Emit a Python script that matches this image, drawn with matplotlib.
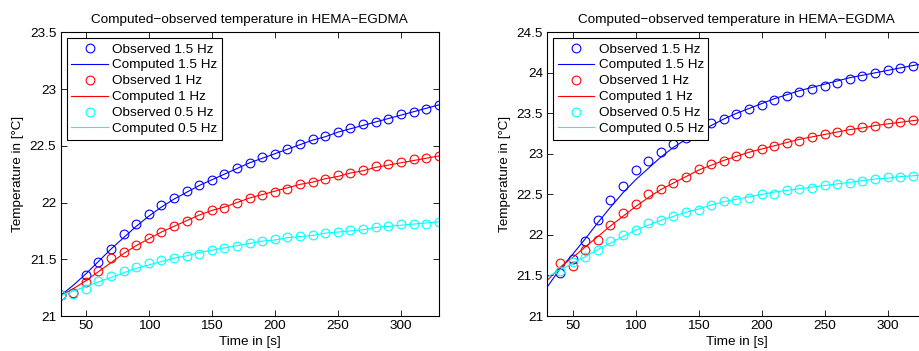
import numpy as np
import matplotlib
matplotlib.use('Agg')
import matplotlib.pyplot as plt

plt.rcParams['font.family'] = ['Liberation Sans', 'DejaVu Sans']

t = np.arange(30, 331, 10)  # time grid, s

# left panel -- observed
obs15_a = [21.185, 21.20, 21.36, 21.48, 21.59, 21.72, 21.81, 21.90, 21.975, 22.04, 22.10,
           22.15, 22.20, 22.25, 22.30, 22.345, 22.40, 22.43, 22.475, 22.52, 22.56,
           22.59, 22.62, 22.66, 22.695, 22.71, 22.74, 22.78, 22.80, 22.82, 22.86]
obs10_a = [21.185, 21.20, 21.30, 21.40, 21.51, 21.56, 21.625, 21.69, 21.74, 21.79, 21.84,
           21.89, 21.93, 21.95, 22.00, 22.04, 22.065, 22.09, 22.12, 22.16, 22.18,
           22.21, 22.24, 22.26, 22.29, 22.32, 22.34, 22.36, 22.38, 22.39, 22.41]
obs05_a = [21.185, 21.19, 21.24, 21.31, 21.35, 21.40, 21.43, 21.465, 21.49, 21.51, 21.53,
           21.55, 21.58, 21.60, 21.62, 21.64, 21.66, 21.68, 21.70, 21.705, 21.71,
           21.73, 21.74, 21.76, 21.77, 21.785, 21.795, 21.81, 21.81, 21.815, 21.83]
# left panel -- computed
cmp15_a = [21.18, 21.27, 21.37, 21.48, 21.59, 21.69, 21.79, 21.88, 21.96, 22.03, 22.09,
           22.15, 22.20, 22.25, 22.30, 22.35, 22.39, 22.43, 22.47, 22.51, 22.55,
           22.58, 22.62, 22.65, 22.68, 22.71, 22.74, 22.77, 22.80, 22.83, 22.86]
cmp10_a = [21.18, 21.24, 21.31, 21.39, 21.47, 21.55, 21.62, 21.68, 21.74, 21.79, 21.84,
           21.89, 21.93, 21.96, 22.00, 22.04, 22.07, 22.10, 22.13, 22.16, 22.18,
           22.21, 22.23, 22.26, 22.28, 22.31, 22.33, 22.35, 22.37, 22.39, 22.41]
cmp05_a = [21.18, 21.22, 21.26, 21.30, 21.34, 21.38, 21.42, 21.45, 21.48, 21.51, 21.53,
           21.56, 21.58, 21.60, 21.62, 21.64, 21.66, 21.67, 21.69, 21.70, 21.71,
           21.73, 21.74, 21.75, 21.76, 21.78, 21.79, 21.80, 21.81, 21.82, 21.83]

# right panel -- observed (starts at 40 s)
t_b = np.arange(40, 321, 10)
obs15_b = [21.53, 21.70, 21.92, 22.18, 22.43, 22.60, 22.80, 22.91, 23.02, 23.12, 23.19,
           23.30, 23.38, 23.43, 23.49, 23.55, 23.60, 23.66, 23.71, 23.76, 23.80,
           23.84, 23.88, 23.92, 23.96, 24.00, 24.03, 24.06, 24.085]
obs10_b = [21.66, 21.62, 21.81, 21.94, 22.12, 22.275, 22.38, 22.505, 22.57, 22.64, 22.715,
           22.81, 22.875, 22.91, 22.97, 23.01, 23.06, 23.10, 23.13, 23.16, 23.21,
           23.24, 23.27, 23.30, 23.33, 23.345, 23.38, 23.39, 23.415]
obs05_b = [21.55, 21.67, 21.73, 21.81, 21.92, 22.00, 22.065, 22.15, 22.18, 22.23, 22.28,
           22.31, 22.37, 22.42, 22.43, 22.46, 22.50, 22.51, 22.555, 22.57, 22.58,
           22.61, 22.63, 22.64, 22.67, 22.69, 22.71, 22.72, 22.73]
# right panel -- computed
cmp15_b = [21.36, 21.58, 21.76, 21.95, 22.15, 22.34, 22.52, 22.68, 22.82, 22.96, 23.08,
           23.18, 23.27, 23.35, 23.43, 23.50, 23.56, 23.62, 23.68, 23.73, 23.78,
           23.82, 23.86, 23.90, 23.94, 23.97, 24.00, 24.03, 24.06, 24.09, 24.12]
cmp10_b = [21.44, 21.60, 21.72, 21.85, 21.98, 22.11, 22.23, 22.35, 22.46, 22.56, 22.64,
           22.72, 22.80, 22.86, 22.92, 22.97, 23.02, 23.06, 23.10, 23.14, 23.18,
           23.21, 23.24, 23.27, 23.30, 23.32, 23.35, 23.37, 23.39, 23.41, 23.43]
cmp05_b = [21.48, 21.57, 21.65, 21.73, 21.82, 21.90, 21.98, 22.06, 22.12, 22.18, 22.23,
           22.28, 22.32, 22.37, 22.41, 22.44, 22.47, 22.50, 22.53, 22.55, 22.57,
           22.59, 22.61, 22.63, 22.65, 22.67, 22.69, 22.70, 22.72, 22.73, 22.74]

labels = ['Observed 1.5 Hz', 'Computed 1.5 Hz', 'Observed 1 Hz',
          'Computed 1 Hz', 'Observed 0.5 Hz', 'Computed 0.5 Hz']
colors = ['#0000ff', '#ff0000', '#00ffff']
title = 'Computed\u2212observed temperature in HEMA\u2212EGDMA'
fs = 9.7


def panel(ax, t_obs, obs, cmp, ylim):
    for o, c, col, i in zip(obs, cmp, colors, range(3)):
        ax.plot(t_obs, o, 'o', mfc='none', mec=col, ms=6.3, mew=0.8,
                label=labels[2 * i])
        ax.plot(t, c, '-', color=col, lw=0.8, label=labels[2 * i + 1])
    ax.set_xlim(30, 330)
    ax.set_ylim(*ylim)
    ax.set_xticks([50, 100, 150, 200, 250, 300])
    ax.set_yticks(np.arange(ylim[0], ylim[1] + 0.01, 0.5))
    ax.yaxis.set_major_formatter(matplotlib.ticker.FormatStrFormatter('%g'))
    ax.tick_params(direction='in', top=True, right=True, labelsize=fs, length=4,
                   width=0.6, pad=3)
    for s in ax.spines.values():
        s.set_linewidth(0.8)
    ax.set_title(title, fontsize=fs, pad=7)
    ax.set_xlabel('Time in [s]', fontsize=fs, labelpad=2.5)
    ax.set_ylabel('Temperature in [\u00b0C]', fontsize=fs, labelpad=4)
    leg = ax.legend(loc='upper left', fontsize=fs, handlelength=2.7,
                    handletextpad=0.3, labelspacing=0.26, borderpad=0.35,
                    borderaxespad=0.45, fancybox=False, framealpha=1,
                    edgecolor='black')
    leg.get_frame().set_linewidth(0.8)


fig = plt.figure(figsize=(9.2, 3.51), dpi=100)
ax1 = fig.add_axes([0.0658, 0.0997, 0.4111, 0.8083])
ax2 = fig.add_axes([0.5949, 0.0997, 0.4111, 0.8083])

panel(ax1, t, [obs15_a, obs10_a, obs05_a], [cmp15_a, cmp10_a, cmp05_a], (21, 23.5))
panel(ax2, t_b, [obs15_b, obs10_b, obs05_b], [cmp15_b, cmp10_b, cmp05_b], (21, 24.5))

fig.savefig('out.png', dpi=100)
